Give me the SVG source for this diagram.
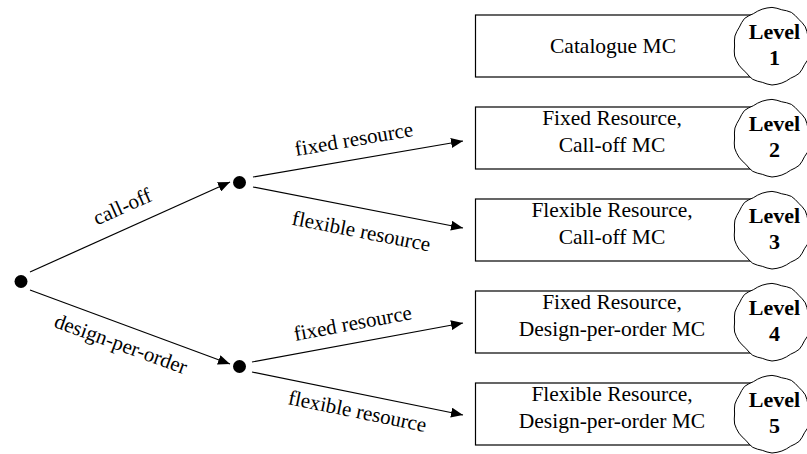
<svg xmlns="http://www.w3.org/2000/svg" width="807" height="454" viewBox="0 0 807 454">
  <style>
    .box { fill: #fff; stroke: #000; stroke-width: 1.2; }
    .lvl { fill: #fff; stroke: #000; stroke-width: 1; }
    .txt { font-family: "Liberation Serif", "Times New Roman", serif; font-size: 21.5px; fill: #000; text-anchor: middle; }
    .lvt { font-family: "Liberation Serif", "Times New Roman", serif; font-size: 22px; font-weight: bold; fill: #000; text-anchor: middle; }
    .lbl { font-family: "Liberation Serif", "Times New Roman", serif; font-size: 21px; fill: #000; text-anchor: middle; }
    .edge { stroke: #000; stroke-width: 1.2; fill: none; marker-end: url(#arrow); }
    .dot { fill: #000; }
  </style>
  <defs>
    <marker id="arrow" viewBox="0 0 12 10" refX="12" refY="5" markerWidth="12" markerHeight="10" markerUnits="userSpaceOnUse" orient="auto">
      <path d="M0,0 L12,5 L0,10 Z" fill="#000"/>
    </marker>
    <!-- hand-drawn style level badge: arcs joined with small kinks -->
    <path id="badge" class="lvl" d="M38,0 A38,38 0 0 1 37.48,10.04 A38,38 0 0 1 32.48,18.75 A38,38 0 0 1 27.29,27.29 A38,38 0 0 1 18.6,32.22 A38,38 0 0 1 9.91,36.99 A38,38 0 0 1 0,39 A38,38 0 0 1 -9.73,36.32 A38,38 0 0 1 -19.25,33.34 A38,38 0 0 1 -26.23,26.23 A38,38 0 0 1 -33.08,19.1 A38,38 0 0 1 -37.38,10.02 A38,38 0 0 1 -37.4,0 A38,38 0 0 1 -37.09,-9.94 A38,38 0 0 1 -32.65,-18.85 A38,38 0 0 1 -27.51,-27.51 A38,38 0 0 1 -18.65,-32.3 A38,38 0 0 1 -9.86,-36.8 A38,38 0 0 1 0,-38.6 A38,38 0 0 1 9.71,-36.22 A38,38 0 0 1 19.4,-33.6 A38,38 0 0 1 26.73,-26.73 A38,38 0 0 1 33.26,-19.2 A38,38 0 0 1 35.93,-9.63 A38,38 0 0 1 38,0 Z"/>
  </defs>

  <!-- connectors -->
  <g id="connectors">
    <line class="edge" x1="30" y1="272" x2="230" y2="182"/>
    <line class="edge" x1="30" y1="290" x2="230" y2="364"/>
    <line class="edge" x1="253" y1="177" x2="463" y2="141"/>
    <line class="edge" x1="253" y1="187" x2="463" y2="228"/>
    <line class="edge" x1="252" y1="362" x2="463" y2="323"/>
    <line class="edge" x1="252" y1="372" x2="463" y2="415"/>
    <text class="lbl" transform="translate(125,213) rotate(-24)">call-off</text>
    <text class="lbl" transform="translate(118.5,350.5) rotate(20)">design-per-order</text>
    <text class="lbl" transform="translate(355,146) rotate(-9.7)">fixed resource</text>
    <text class="lbl" transform="translate(360,238) rotate(11)">flexible resource</text>
    <text class="lbl" transform="translate(354,330) rotate(-10.5)">fixed resource</text>
    <text class="lbl" transform="translate(356,418) rotate(11.5)">flexible resource</text>
  </g>

  <!-- decision points -->
  <g id="root"><circle class="dot" cx="21" cy="281.5" r="6.5"/></g>
  <g id="calloff-point"><circle class="dot" cx="239.5" cy="182.5" r="6.5"/></g>
  <g id="dpo-point"><circle class="dot" cx="239.5" cy="366.5" r="6.5"/></g>

  <!-- MC boxes with level badges -->
  <g id="level1">
    <rect class="box" x="475.5" y="15" width="300" height="62"/>
    <text class="txt" x="613" y="53">Catalogue MC</text>
    <use href="#badge" x="772" y="46"/>
    <text class="lvt" x="774.5" y="39">Level</text>
    <text class="lvt" x="774.5" y="65">1</text>
  </g>
  <g id="level2">
    <rect class="box" x="475.5" y="107" width="300" height="62"/>
    <text class="txt" x="612" y="125">Fixed Resource,</text>
    <text class="txt" x="612" y="152">Call-off MC</text>
    <use href="#badge" x="772" y="138"/>
    <text class="lvt" x="774.5" y="131">Level</text>
    <text class="lvt" x="774.5" y="157">2</text>
  </g>
  <g id="level3">
    <rect class="box" x="475.5" y="199" width="300" height="62"/>
    <text class="txt" x="612" y="217">Flexible Resource,</text>
    <text class="txt" x="612" y="244">Call-off MC</text>
    <use href="#badge" x="772" y="230"/>
    <text class="lvt" x="774.5" y="223">Level</text>
    <text class="lvt" x="774.5" y="249">3</text>
  </g>
  <g id="level4">
    <rect class="box" x="475.5" y="291" width="300" height="62"/>
    <text class="txt" x="612" y="309">Fixed Resource,</text>
    <text class="txt" x="612" y="336">Design-per-order MC</text>
    <use href="#badge" x="772" y="322"/>
    <text class="lvt" x="774.5" y="315">Level</text>
    <text class="lvt" x="774.5" y="341">4</text>
  </g>
  <g id="level5">
    <rect class="box" x="475.5" y="383" width="300" height="62"/>
    <text class="txt" x="612" y="401">Flexible Resource,</text>
    <text class="txt" x="612" y="428">Design-per-order MC</text>
    <use href="#badge" x="772" y="414"/>
    <text class="lvt" x="774.5" y="407">Level</text>
    <text class="lvt" x="774.5" y="433">5</text>
  </g>
</svg>
